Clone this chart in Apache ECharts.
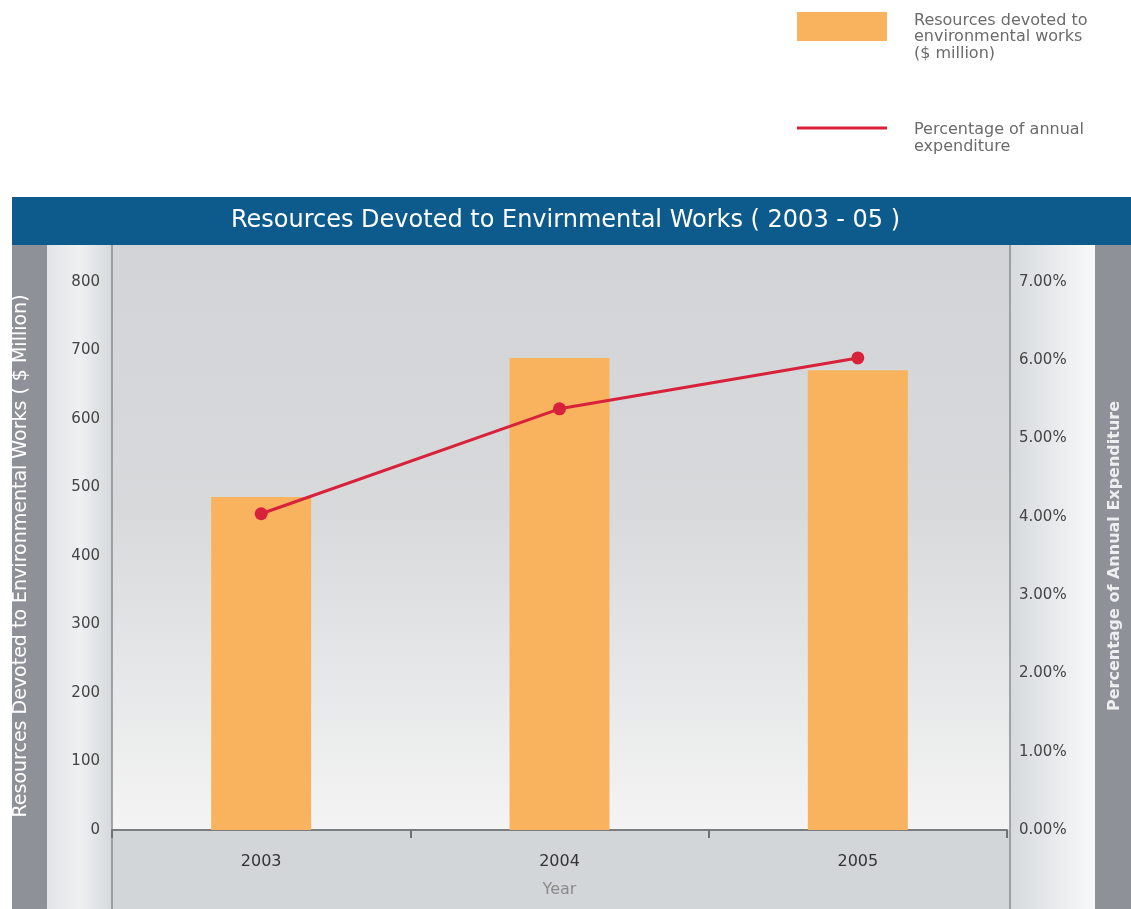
<!DOCTYPE html>
<html>
<head>
<meta charset="utf-8">
<title>Resources Devoted to Envirnmental Works</title>
<script src="https://cdn.jsdelivr.net/npm/echarts@6/dist/echarts.min.js"></script>
<style>
  html, body { margin: 0; padding: 0; background: #fff; }
  #chart { width: 1131px; height: 909px; }
</style>
</head>
<body>
<div id="chart"></div>
<script>
// data
const years = ['2003', '2004', '2005'];
const resources = [486, 689, 671];        // $ million
const pctExpenditure = [4.04, 5.38, 6.03]; // % of annual expenditure

const barName = 'Resources devoted to environmental works ($ million)';
const lineName = 'Percentage of annual expenditure';

const font = '"DejaVu Sans", "Liberation Sans", Arial, sans-serif';

const chart = echarts.init(document.getElementById('chart'));

// panel backgrounds behind the grid (decoration only)
const bg = [
  { type: 'rect', shape: { x: 12, y: 197, width: 1119, height: 48 }, style: { fill: '#0d5a8c' } },
  { type: 'rect', shape: { x: 12, y: 245, width: 35, height: 664 }, style: { fill: '#8e9197' } },
  {
    type: 'rect', shape: { x: 47, y: 245, width: 65, height: 664 },
    style: {
      fill: new echarts.graphic.LinearGradient(0, 0, 1, 0, [
        { offset: 0, color: '#e2e5e8' },
        { offset: 0.5, color: '#eef0f1' },
        { offset: 1, color: '#d5d9dd' }
      ])
    }
  },
  {
    type: 'rect', shape: { x: 112, y: 245, width: 898, height: 585 },
    style: {
      fill: new echarts.graphic.LinearGradient(0, 0, 0, 1, [
        { offset: 0, color: '#d2d4d7' },
        { offset: 0.45, color: '#d7d9db' },
        { offset: 1, color: '#f4f4f4' }
      ])
    }
  },
  { type: 'rect', shape: { x: 112, y: 830, width: 898, height: 79 }, style: { fill: '#d3d6d9' } },
  {
    type: 'rect', shape: { x: 1010, y: 245, width: 85, height: 664 },
    style: {
      fill: new echarts.graphic.LinearGradient(0, 0, 1, 0, [
        { offset: 0, color: '#d6dadd' },
        { offset: 1, color: '#f8f9fa' }
      ])
    }
  },
  { type: 'rect', shape: { x: 1095, y: 245, width: 36, height: 664 }, style: { fill: '#8e9197' } },
  { type: 'line', shape: { x1: 112, y1: 245, x2: 112, y2: 909 }, style: { stroke: '#8a8d91', lineWidth: 1.5 } },
  { type: 'line', shape: { x1: 1010, y1: 245, x2: 1010, y2: 909 }, style: { stroke: '#8a8d91', lineWidth: 1.5 } }
].map((g) => Object.assign(g, { silent: true, z: -10 }));

// swatch paths carry an invisible sliver at the bottom so the text sits lower than the swatch
const barIcon = 'path://M0,0H90V29H0Z M0,50H90V50.01H0Z';
const lineIcon = 'path://M0,0H90V3H0Z M0,24H90V24.01H0Z';
const legendText = { color: '#6b6b6b', fontSize: 16, lineHeight: 16.5, padding: [0, 0, 0, 22], fontFamily: font };

const option = {
  animation: false,
  backgroundColor: '#fff',
  textStyle: { fontFamily: font },
  graphic: bg,
  title: {
    text: 'Resources Devoted to Envirnmental Works ( 2003 - 05 )',
    left: 'center',
    top: 209,
    padding: 0,
    textStyle: { color: '#fff', fontSize: 24, fontWeight: 'normal', fontFamily: font }
  },
  legend: [
    {
      data: [barName],
      left: 797,
      top: 12,
      padding: 0,
      selectedMode: false,
      icon: barIcon,
      itemWidth: 90,
      itemHeight: 50,
      itemStyle: { borderWidth: 0 },
      formatter: () => 'Resources devoted to\nenvironmental works\n($ million)',
      textStyle: legendText
    },
    {
      data: [lineName],
      left: 797,
      top: 122,
      padding: 0,
      selectedMode: false,
      icon: lineIcon,
      itemWidth: 90,
      itemHeight: 24,
      itemStyle: { borderWidth: 0 },
      formatter: () => 'Percentage of annual\nexpenditure',
      textStyle: legendText
    }
  ],
  grid: { left: 112, right: 121, top: 282, bottom: 79 },
  xAxis: {
    type: 'category',
    data: years,
    name: 'Year',
    nameLocation: 'middle',
    nameGap: 52,
    nameTextStyle: { color: '#8a8a8a', fontSize: 16 },
    axisLine: { lineStyle: { color: '#7a7c80', width: 2 } },
    axisTick: { show: true, length: 8, lineStyle: { color: '#6f7175', width: 2 } },
    axisLabel: { color: '#333', fontSize: 16, margin: 24 }
  },
  yAxis: [
    {
      type: 'value',
      min: 0,
      max: 800,
      interval: 100,
      name: 'Resources Devoted to Environmental Works ( $ Million)',
      nameLocation: 'middle',
      nameRotate: 90,
      nameGap: 81,
      nameTextStyle: { color: '#fff', fontSize: 19 },
      axisLine: { show: false },
      axisTick: { show: false },
      splitLine: { show: false },
      axisLabel: { color: '#444', fontSize: 15, margin: 12 }
    },
    {
      type: 'value',
      min: 0,
      max: 7,
      interval: 1,
      name: 'Percentage of Annual Expenditure',
      nameLocation: 'middle',
      nameRotate: 90,
      nameGap: 100,
      nameTextStyle: { color: '#eceef0', fontSize: 16, fontWeight: 'bold' },
      axisLine: { show: false },
      axisTick: { show: false },
      splitLine: { show: false },
      axisLabel: { color: '#444', fontSize: 15, margin: 12, formatter: (v) => v.toFixed(2) + '%' }
    }
  ],
  series: [
    {
      name: barName,
      type: 'bar',
      data: resources,
      barWidth: 100,
      itemStyle: { color: '#f9b35e' }
    },
    {
      name: lineName,
      type: 'line',
      yAxisIndex: 1,
      data: pctExpenditure,
      symbol: 'circle',
      symbolSize: 13,
      lineStyle: { color: '#d8213a', width: 3 },
      itemStyle: { color: '#d8213a' }
    }
  ]
};

chart.setOption(option);
</script>
</body>
</html>
